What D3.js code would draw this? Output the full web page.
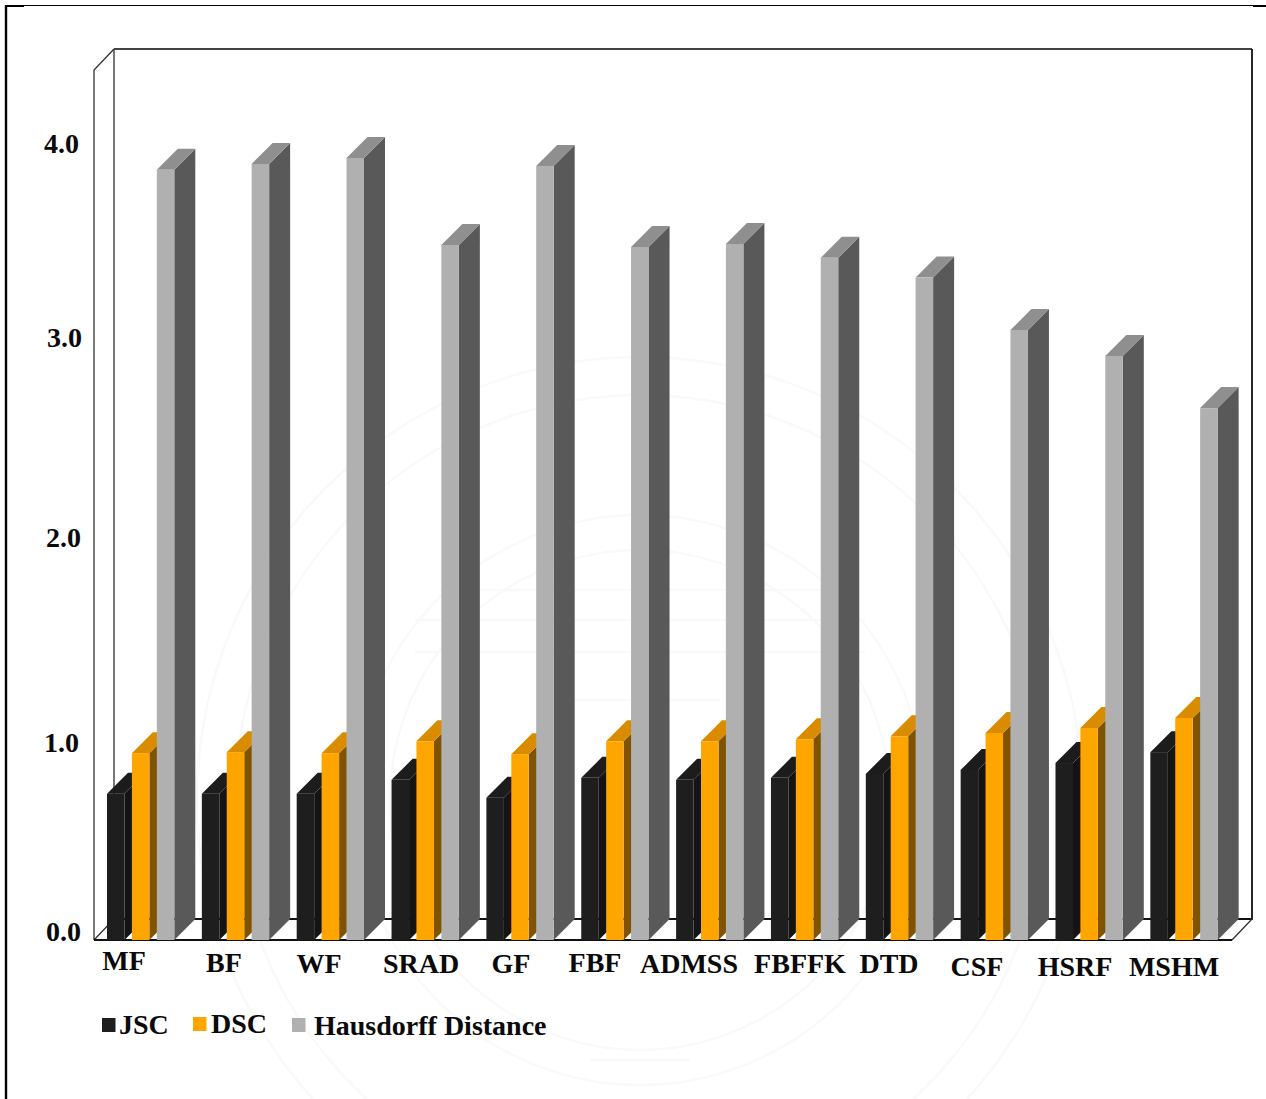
<!DOCTYPE html>
<html>
<head>
<meta charset="utf-8">
<title>Segmentation metrics by filter</title>
<script src="https://cdn.jsdelivr.net/npm/d3@7/dist/d3.min.js"></script>
<style>
html,body{margin:0;padding:0;background:#fff;overflow:hidden}
svg{display:block}
text{font-family:"Liberation Serif",serif;font-weight:700;fill:#0a0a0a}
</style>
</head>
<body>
<svg id="chart" width="1266" height="1099"></svg>
<script>
const categories = ["MF","BF","WF","SRAD","GF","FBF","ADMSS","FBFFK","DTD","CSF","HSRF","MSHM"];
const seriesNames = ["JSC","DSC","Hausdorff Distance"];
const jsc = [0.74,0.74,0.74,0.81,0.72,0.82,0.81,0.82,0.84,0.86,0.895,0.95];
const dsc = [0.945,0.95,0.945,1.005,0.94,1.005,1.005,1.015,1.03,1.047,1.072,1.123];
const hausdorff = [3.895,3.925,3.955,3.515,3.915,3.505,3.52,3.45,3.35,3.085,2.954,2.69];
const tickLabels = [0,1,2,3,4];

const frontColors = ["#1e1e1e","#ffa500","#b0b0b0"];
const sideColors = ["#141414","#7f5300","#595959"];
const topColors = ["#1c1c1c","#d98c00","#8f8f8f"];

// Hand-placed label positions: centre and baseline for the categories, left edge and nudge for the ticks
const categoryCenters = [124,224,319,421,511,595,689,800,889,977,1075,1174];
const categoryBaselines = [970,972,973,973,973,972,973,973,973,976,976,976];
const tickLeft = [46,44,46,47,44];
const tickCenterNudge = [-8,1,-7,-9,-5];

const svg = d3.select("#chart");
const depth = 21;
const floorY = 940, plotTopY = 70, plotLeft = 94, plotRight = 1232;

const y = d3.scaleLinear().domain([0,4.4]).range([floorY,plotTopY]);
const x0 = d3.scaleBand().domain(categories).range([107,1245.2]);
const x1 = d3.scaleBand().domain(seriesNames).range([0,74.7]);
const barWidth = 17.5;

// Faint seal printed behind the figure
const seal = svg.append("g").attr("fill","none").attr("stroke","#f9f9f9").attr("stroke-width",2.5);
[443,405,285,250].forEach(r => seal.append("circle").attr("cx",640).attr("cy",800).attr("r",r));
[[415,620,865,620],[415,652,865,652],[440,590,840,590],[560,700,720,700],[590,1060,690,1060]].forEach(d =>
  seal.append("line").attr("x1",d[0]).attr("y1",d[1]).attr("x2",d[2]).attr("y2",d[3]));

// Page border fragments
svg.append("line").attr("x1",6).attr("y1",5).attr("x2",6).attr("y2",1099).attr("stroke","#000").attr("stroke-width",2.4);
svg.append("line").attr("x1",6).attr("y1",5.5).attr("x2",1266).attr("y2",5.5).attr("stroke","#000").attr("stroke-width",1.2);
svg.append("line").attr("x1",6).attr("y1",6).attr("x2",24).attr("y2",6).attr("stroke","#000").attr("stroke-width",2);
svg.append("line").attr("x1",1253).attr("y1",6).attr("x2",1266).attr("y2",6).attr("stroke","#000").attr("stroke-width",2);

// Box walls and floor
const wall = svg.append("g").attr("fill","none").attr("stroke-linejoin","miter");
const backL = plotLeft+20, backR = plotRight+20, backT = plotTopY-21, backB = floorY-21;
wall.append("path").attr("stroke","#555").attr("stroke-width",1.6)
  .attr("d",`M${backL},${backB}V${backT}`);
wall.append("path").attr("stroke","#444").attr("stroke-width",1.8)
  .attr("d",`M${backL},${backT}H${backR}`);
wall.append("path").attr("stroke","#111").attr("stroke-width",1.8)
  .attr("d",`M${backR},${backT}V${backB}H${backL}`);
wall.append("path").attr("stroke","#333").attr("stroke-width",1.3)
  .attr("d",`M${plotLeft},${floorY}V${plotTopY}L${backL},${backT}M${plotLeft},${floorY}L${backL},${backB}M${plotRight},${floorY}L${backR},${backB}`);
wall.append("path").attr("stroke","#111").attr("stroke-width",1.8)
  .attr("d",`M${plotLeft},${floorY}H${plotRight}`);

// Extruded bars, painted left to right so nearer faces overlap their neighbours
const seriesValues = [jsc,dsc,hausdorff];
const bars = svg.append("g");
categories.forEach((cat,i) => {
  seriesNames.forEach((name,s) => {
    const left = x0(cat)+x1(name), right = left+barWidth;
    const top = y(seriesValues[s][i]);
    const g = bars.append("g");
    g.append("path").attr("fill",sideColors[s])
      .attr("d",`M${right},${floorY}V${top}L${right+depth},${top-depth}V${floorY-depth}Z`);
    g.append("path").attr("fill",topColors[s])
      .attr("d",`M${left},${top}L${left+depth},${top-depth}H${right+depth}L${right},${top}Z`);
    g.append("rect").attr("x",left).attr("y",top).attr("width",barWidth)
      .attr("height",floorY-top).attr("fill",frontColors[s]);
  });
});

// Value axis labels
svg.append("g").selectAll("text").data(tickLabels).join("text")
  .attr("x",(d,i)=>tickLeft[i])
  .attr("y",(d,i)=>y(d)+tickCenterNudge[i]+9)
  .attr("font-size",28)
  .text(d=>d3.format(".1f")(d));

// Category labels
svg.append("g").selectAll("text").data(categories).join("text")
  .attr("x",(d,i)=>categoryCenters[i])
  .attr("y",(d,i)=>categoryBaselines[i])
  .attr("text-anchor","middle")
  .attr("font-size",28)
  .text(d=>d);

// Legend
const legendSwatchX = [102,193,292], legendTextX = [119,211,314], legendBaseline = [1034,1033,1035], legendSwatchY = [1018,1017,1018];
const legend = svg.append("g");
seriesNames.forEach((name,s) => {
  legend.append("rect").attr("x",legendSwatchX[s]).attr("y",legendSwatchY[s]).attr("width",13.5).attr("height",14).attr("fill",frontColors[s]);
  legend.append("text").attr("x",legendTextX[s]).attr("y",legendBaseline[s]).attr("font-size",28).text(name);
});
</script>
</body>
</html>
